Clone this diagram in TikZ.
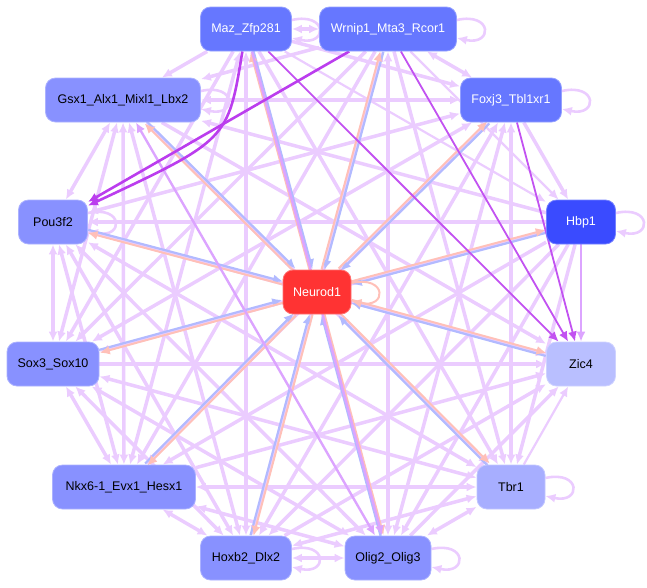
\documentclass[tikz,border=0pt]{standalone}
\usepackage{fontspec}
\setmainfont{Liberation Sans}
\usetikzlibrary{arrows.meta, calc}

\definecolor{lavline}{HTML}{EBCCFF}
\definecolor{medline}{HTML}{DCA4FF}
\definecolor{drkline}{HTML}{BB3DEE}
\definecolor{inblue}{HTML}{B2BAFF}
\definecolor{outred}{HTML}{FFC0B8}
\definecolor{topblue}{HTML}{6677FF}
\definecolor{midblue}{HTML}{8891FF}
\definecolor{hbpblue}{HTML}{3A4BFF}
\definecolor{tbrblue}{HTML}{A7AEFF}
\definecolor{zicblue}{HTML}{B9BFFF}
\definecolor{neured}{HTML}{FF3333}

\pgfdeclarelayer{edges}
\pgfsetlayers{edges,main}

\tikzset{
  >={Latex[length=10pt,width=9pt]},
  gene/.style={rectangle, rounded corners=10pt, minimum height=44pt, inner sep=0pt,
    fill=#1, draw=#1!70!white, line width=0.8pt, font=\fontsize{12.5}{15}\selectfont},
  lav/.style={draw=lavline, line width=3.5pt},
  lavt/.style={draw=lavline, line width=2.2pt},
  med/.style={draw=medline, line width=2.4pt},
  drk/.style={draw=drkline, line width=2.6pt},
  drkt/.style={draw=drkline!80!medline, line width=1.8pt},
  lavtwo/.style={lav, <->},
  lavone/.style={lav, ->},
  lavtone/.style={lavt, ->},
  medone/.style={med, ->},
  medtwo/.style={med, <->},
  drkone/.style={drk, ->},
  drktone/.style={drkt, ->},
  tonrd/.style={draw=inblue, line width=2.2pt, ->},
  fromnrd/.style={draw=outred, line width=2pt, ->},
  selfloop/.style={draw=lavline, line width=2.6pt, ->},
}

\begin{document}
\begin{tikzpicture}[x=1pt, y=-1pt]
\useasboundingbox (0,0) rectangle (647,587);

% genes round the ring
\node[gene=topblue, text=white, minimum width=91pt] (maz) at (246,29) {Maz\_Zfp281};
\node[gene=topblue, text=white, minimum width=137pt] (wrnip) at (388,29) {Wrnip1\_Mta3\_Rcor1};
\node[gene=topblue, text=white, minimum width=101pt] (foxj) at (511,100) {Foxj3\_Tbl1xr1};
\node[gene=hbpblue, text=white, minimum width=69pt] (hbp) at (581,222) {Hbp1};
\node[gene=zicblue, minimum width=69pt] (zic) at (581,364) {Zic4};
\node[gene=tbrblue, minimum width=68pt] (tbr) at (511,487) {Tbr1};
\node[gene=midblue, minimum width=86pt] (olig) at (388,558) {Olig2\_Olig3};
\node[gene=midblue, minimum width=91pt] (hoxb) at (246,558) {Hoxb2\_Dlx2};
\node[gene=midblue, minimum width=143pt] (nkx) at (124,487) {Nkx6-1\_Evx1\_Hesx1};
\node[gene=midblue, minimum width=92pt] (sox) at (53,364) {Sox3\_Sox10};
\node[gene=midblue, minimum width=69pt] (pou) at (53,222) {Pou3f2};
\node[gene=midblue, minimum width=155pt] (gsx) at (123,100) {Gsx1\_Alx1\_Mixl1\_Lbx2};
\node[gene=neured, text=white, minimum width=68pt] (neurod) at (317,292) {Neurod1};

\begin{pgfonlayer}{edges}
% ring edges
\foreach \a/\b/\s in {
  maz/wrnip/lavtwo, maz/foxj/lavone, maz/hbp/lavtone, maz/tbr/lavone,
  maz/hoxb/lavtwo, maz/nkx/lavtwo, maz/sox/lavone, maz/gsx/lavone,
  wrnip/foxj/lavtwo, wrnip/hbp/lavtone, wrnip/tbr/lavone, wrnip/olig/lavtwo,
  wrnip/hoxb/lavtwo, wrnip/nkx/lavone, wrnip/sox/lavone, wrnip/gsx/lavone,
  foxj/hbp/lavone, foxj/tbr/lavtwo, foxj/olig/lavtwo, foxj/hoxb/lavtwo,
  foxj/nkx/lavtwo, foxj/sox/lavtwo, foxj/pou/lavtwo, foxj/gsx/lavtwo,
  hbp/tbr/lavone, hbp/olig/lavone, hbp/hoxb/lavone, hbp/nkx/lavone,
  hbp/sox/lavone, hbp/pou/lavone, hbp/gsx/lavone,
  tbr/zic/lavtone, olig/zic/lavone, hoxb/zic/lavone, nkx/zic/lavone,
  sox/zic/lavone, pou/zic/lavone, gsx/zic/lavone,
  tbr/olig/lavtwo, tbr/hoxb/lavtwo, tbr/nkx/lavtwo, tbr/sox/lavtwo,
  tbr/pou/lavtwo, tbr/gsx/lavtwo,
  olig/hoxb/lavtwo, olig/nkx/lavtwo, olig/sox/lavtwo, olig/pou/lavtwo,
  hoxb/nkx/lavtwo, hoxb/sox/lavtwo, hoxb/pou/lavtwo, hoxb/gsx/lavtwo,
  nkx/sox/lavtwo, nkx/pou/lavtwo, nkx/gsx/lavtwo,
  sox/pou/lavtwo, sox/gsx/lavtwo, pou/gsx/lavtwo}
  \draw[\s] (\a) -- (\b);

% self loops
\foreach \g in {maz,wrnip,foxj,hbp,tbr,olig,hoxb,gsx,pou}
  \draw[selfloop] ([yshift=9pt]\g.east) .. controls +(36,-8) and +(36,8) .. ([yshift=-9pt]\g.east);

% Neurod1 in and out
\foreach \g in {maz,wrnip,foxj,hbp,zic,tbr,olig,hoxb,nkx,sox,pou,gsx}{
  \path (\g) -- (neurod) coordinate[pos=0] (\g-s) coordinate[pos=1] (\g-e);
  \draw[tonrd] ($(\g-s)!1.5pt!90:(\g-e)$) -- ($(\g-e)!1.5pt!-90:(\g-s)$);
  \draw[fromnrd] ($(\g-e)!1.5pt!90:(\g-s)$) -- ($(\g-s)!1.5pt!-90:(\g-e)$);
}
\draw[fromnrd] ([yshift=9pt]neurod.east) .. controls +(36,-8) and +(36,8) .. ([yshift=-9pt]neurod.east);

% stronger edges on top
\foreach \a/\b/\s in {maz/olig/medone, gsx/olig/medtwo, hbp/zic/medone,
  maz/zic/drktone, wrnip/zic/drktone, foxj/zic/drktone, wrnip/pou/drkone}
  \draw[\s] (\a) -- (\b);
\draw[drkone] (maz) .. controls (228,140) .. (pou);
\end{pgfonlayer}
\end{tikzpicture}
\end{document}
